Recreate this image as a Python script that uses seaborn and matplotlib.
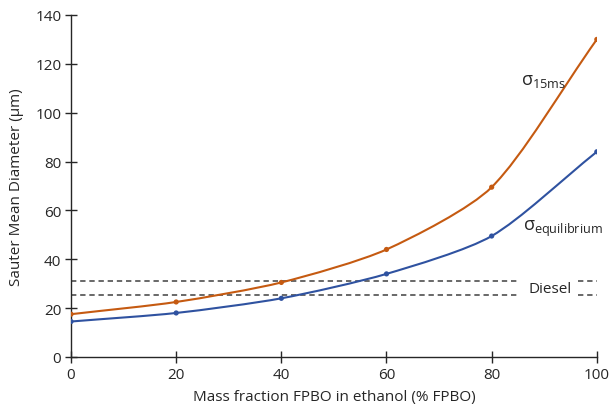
import numpy as np
import pandas as pd
import matplotlib
matplotlib.use("Agg")
import matplotlib.pyplot as plt
from matplotlib.path import Path
from matplotlib.patches import PathPatch
import seaborn as sns

fpbo = [0, 20, 40, 60, 80, 100]
sigma_15ms = [17.5, 22.5, 30.5, 44, 69.5, 130]
sigma_eq = [14.5, 18, 24, 34, 49.5, 84]
diesel_levels = [31, 25.5]

sns.set_theme(style="white")
plt.rcParams['font.family'] = ['Open Sans', 'DejaVu Sans']
plt.rcParams['mathtext.fontset'] = 'custom'
plt.rcParams['mathtext.rm'] = 'Open Sans'

fig = plt.figure(figsize=(6.09, 4.10), dpi=100)
ax = fig.add_axes([0.1166, 0.127, 0.8634, 0.834])

orange = '#C55A11'
blue = '#2F52A0'

SX, SY = 5.26, 2.443  # approx pixels per data unit, used only for curve tension

def smooth_path(xs, ys, t=0.25):
    pts = np.column_stack([xs, ys]).astype(float)
    scale = np.array([SX, SY])
    def dist(a, b):
        return np.hypot(*((b - a) * scale))
    verts = [pts[0]]
    codes = [Path.MOVETO]
    n = len(pts)
    for i in range(n - 1):
        p1 = pts[i]
        p2 = pts[i + 1]
        d12 = dist(p1, p2)
        if i > 0:
            p0 = pts[i - 1]
            c1 = p1 + (p2 - p0) * t * d12 / (dist(p0, p1) + d12)
        else:
            c1 = p1 + (p2 - p1) / 3
        if i + 2 < n:
            p3 = pts[i + 2]
            c2 = p2 - (p3 - p1) * t * d12 / (d12 + dist(p2, p3))
        else:
            c2 = p2 - (p2 - p1) / 3
        verts += [c1, c2, p2]
        codes += [Path.CURVE4] * 3
    return Path(verts, codes)

df = pd.DataFrame({'x': fpbo * 2, 'y': sigma_15ms + sigma_eq,
                   's': ['15ms'] * 6 + ['eq'] * 6})
for ys, c in [(sigma_15ms, orange), (sigma_eq, blue)]:
    ax.add_patch(PathPatch(smooth_path(fpbo, ys), facecolor='none', edgecolor=c, lw=1.5, zorder=2))
sns.scatterplot(data=df, x='x', y='y', hue='s', palette={'15ms': orange, 'eq': blue},
                s=14, edgecolor='none', legend=False, ax=ax, zorder=3)

for lv in diesel_levels:
    ax.plot([0, 85], [lv, lv], ls=(0, (3.5, 2.5)), color='#404040', lw=1.1, zorder=1)
    ax.plot([96.4, 100], [lv, lv], ls=(0, (3.5, 2.5)), color='#404040', lw=1.1, zorder=1)

ax.text(87.0, 28.2, 'Diesel', fontsize=11, color='#262626', va='center', ha='left')
ax.text(85.6, 113.5, r'σ$_{\mathregular{15ms}}$', fontsize=13, color='#262626', va='center', ha='left')
ax.text(86.0, 53, r'σ$_{\mathregular{equilibrium}}$', fontsize=13, color='#262626', va='center', ha='left')

ax.set_xlim(0, 100)
ax.set_ylim(0, 140)
ax.set_xticks([0, 20, 40, 60, 80, 100])
ax.set_yticks(range(0, 141, 20))
for sp in ['top', 'right']:
    ax.spines[sp].set_visible(False)
for sp in ['left', 'bottom']:
    ax.spines[sp].set_color('#262626')
    ax.spines[sp].set_linewidth(1.0)
ax.tick_params(axis='both', which='major', bottom=True, left=True, direction='inout',
               length=8, width=1.0, color='#262626',
               labelsize=11, labelcolor='#262626', pad=3)
ax.set_xlabel('Mass fraction FPBO in ethanol (% FPBO)', fontsize=11, color='#262626', labelpad=5)
ax.set_ylabel('Sauter Mean Diameter (µm)', fontsize=11, color='#262626', labelpad=8)

fig.savefig('out.png', dpi=100)
